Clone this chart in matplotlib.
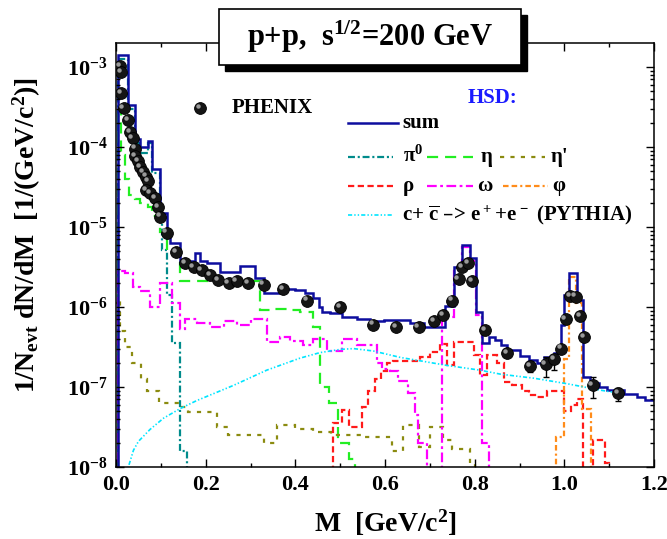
import numpy as np
import matplotlib
matplotlib.use("Agg")
import matplotlib.pyplot as plt
from matplotlib.patches import Rectangle
from matplotlib.transforms import ScaledTranslation
from matplotlib.ticker import LogLocator, MultipleLocator, NullFormatter

plt.rcParams['font.family'] = ['Liberation Serif', 'DejaVu Serif']
plt.rcParams['font.weight'] = 'bold'
plt.rcParams['axes.labelweight'] = 'bold'
plt.rcParams['mathtext.default'] = 'regular'
plt.rcParams['lines.scale_dashes'] = False

## Data: M in GeV/c^2, yields given as log10(1/N dN/dM)
# HSD sum (histogram)
sum_edges = [0, 0.005, 0.027, 0.042, 0.054, 0.072, 0.080, 0.098, 0.113, 0.12,
             0.143, 0.176, 0.1875, 0.202, 0.232, 0.277, 0.310, 0.329, 0.366, 0.400,
             0.422, 0.440, 0.452, 0.459, 0.478, 0.504, 0.537, 0.567, 0.597, 0.656,
             0.686, 0.734, 0.753, 0.772, 0.790, 0.802, 0.817, 0.832, 0.846, 0.858,
             0.873, 0.902, 0.921, 0.940, 0.955, 0.978, 0.992, 0.999, 1.010, 1.029,
             1.042, 1.057, 1.077, 1.096, 1.133, 1.163, 1.181, 1.2]
sum_log = [-9, -2.85, -3.475, -3.90, -4.0, -3.92, -4.27, -4.83, -5.12,
           -5.2, -5.43, -5.32, -5.43, -5.45, -5.56, -5.49, -5.64, -5.83, -5.77,
           -5.79, -5.83, -5.89, -6.0, -6.06, -6.08, -6.13, -6.15, -6.17, -6.16,
           -6.20, -6.25, -5.99, -5.50, -5.225, -5.39, -6.06, -6.45, -6.38, -6.41,
           -6.47, -6.54, -6.61, -6.66, -6.70, -6.62, -6.58, -6.23, -5.85, -5.58,
           -5.91, -6.87, -6.95, -7.0, -7.04, -7.09, -7.12, -7.16]

# pi0 Dalitz
pi0_edges = [0, 0.005, 0.027, 0.042, 0.054, 0.072, 0.080, 0.098, 0.102, 0.113,
             0.124, 0.143, 0.158, 0.17]
pi0_log = [-9, -2.9, -3.52, -3.95, -4.07, -3.95, -4.33, -4.9, -5.29, -5.85,
           -6.45, -7.8, -9]

# eta
eta_edges = [0, 0.004, 0.011, 0.02, 0.03, 0.042, 0.054, 0.072, 0.08, 0.098,
             0.113, 0.143, 0.321, 0.351, 0.381, 0.411, 0.44, 0.455, 0.474, 0.496,
             0.52, 0.533, 0.55]
eta_log = [-9, -3.5, -4.1, -4.4, -4.6, -4.65, -4.7, -4.75, -4.86, -5.06,
           -5.3, -5.68, -6.04, -6.02, -6.04, -6.06, -6.25, -7.0, -7.2, -7.7,
           -7.9, -9]

# eta'
etap_edges = [0, 0.004, 0.01, 0.02, 0.035, 0.055, 0.07, 0.095, 0.14, 0.16,
              0.225, 0.25, 0.33, 0.36, 0.40, 0.44, 0.48, 0.55, 0.615, 0.64,
              0.675, 0.70, 0.73, 0.75, 0.79, 0.80, 0.81]
etap_log = [-5.95, -5.9, -6.3, -6.5, -6.7, -6.9, -7.05, -7.2, -7.25, -7.31,
            -7.5, -7.6, -7.7, -7.47, -7.52, -7.56, -7.6, -7.63, -7.8, -7.48,
            -7.75, -7.5, -7.66, -7.78, -7.95, -9]

# rho
rho_edges = [0.47, 0.485, 0.504, 0.519, 0.548, 0.563, 0.578, 0.59, 0.604, 0.618,
             0.679, 0.70, 0.723, 0.738, 0.753, 0.798, 0.812, 0.828, 0.85, 0.866,
             0.884, 0.906, 0.921, 0.94, 0.962, 0.999, 1.014, 1.029, 1.042, 1.065,
             1.09, 1.1, 1.11]
rho_log = [-9, -7.45, -7.29, -7.5, -7.25, -7.05, -6.9, -6.8, -6.7, -6.68,
           -6.62, -6.56, -6.46, -6.72, -6.44, -6.6, -6.85, -6.6, -6.7, -6.94,
           -6.97, -7.05, -7.1, -7.12, -7.05, -7.3, -7.22, -7.15, -8.5, -7.66,
           -7.95, -9]

# omega
omega_edges = [0, 0.005, 0.02, 0.038, 0.054, 0.076, 0.098, 0.124, 0.143, 0.154,
               0.18, 0.21, 0.24, 0.27, 0.30, 0.337, 0.366, 0.388, 0.417, 0.44,
               0.471, 0.504, 0.537, 0.582, 0.593, 0.611, 0.63, 0.652, 0.667, 0.674,
               0.694, 0.727, 0.753, 0.772, 0.79, 0.802, 0.817, 0.832, 0.85]
omega_log = [-9, -5.55, -5.58, -5.75, -5.8, -6.0, -5.7, -5.95, -6.27, -6.15,
             -6.2, -6.25, -6.18, -6.22, -6.15, -6.44, -6.38, -6.42, -6.48, -6.4,
             -6.55, -6.4, -6.48, -6.7, -6.77, -6.8, -6.93, -7.08, -7.35, -7.7,
             -9, -6.12, -5.55, -5.25, -5.42, -6.1, -7.7, -9]

# phi
phi_edges = [0.97, 0.981, 0.999, 1.01, 1.025, 1.04, 1.059, 1.07]
phi_log = [-9, -7.62, -6.65, -5.62, -5.95, -7.27, -9]

# c cbar (PYTHIA), smooth curve
ccbar_m = [0.022, 0.0275, 0.039, 0.05, 0.076, 0.106, 0.143, 0.18, 0.262, 0.336,
           0.41, 0.455, 0.5, 0.53, 0.574, 0.634, 0.738, 0.8125, 0.858, 0.932,
           1.007, 1.081, 1.125]
ccbar_log = [-8.3, -8.0, -7.79, -7.68, -7.53, -7.39, -7.27, -7.17, -6.98, -6.79,
             -6.64, -6.57, -6.53, -6.52, -6.55, -6.63, -6.73, -6.79, -6.84, -6.89,
             -6.96, -7.04, -7.08]

# PHENIX data
phenix_m = [0.010, 0.012, 0.011, 0.017, 0.0275, 0.031, 0.037, 0.042, 0.042, 0.050,
            0.054, 0.061, 0.067, 0.072, 0.068, 0.076, 0.087, 0.094, 0.098, 0.113,
            0.134, 0.154, 0.173, 0.191, 0.21, 0.228, 0.251, 0.269, 0.295, 0.329,
            0.373, 0.426, 0.50, 0.574, 0.625, 0.675, 0.710, 0.729, 0.749, 0.764,
            0.772, 0.785, 0.794, 0.824, 0.873, 0.923, 0.958, 0.978, 0.993, 1.003,
            1.013, 1.025, 1.035, 1.044, 1.063, 1.12]
phenix_log = [-2.99, -3.06, -3.33, -3.51, -3.66, -3.81, -3.89, -4.02, -4.11, -4.18,
              -4.25, -4.31, -4.37, -4.43, -4.54, -4.58, -4.64, -4.75, -4.87, -5.07,
              -5.31, -5.45, -5.50, -5.54, -5.6, -5.66, -5.70, -5.68, -5.70, -5.72,
              -5.78, -5.92, -6.0, -6.22, -6.25, -6.25, -6.18, -6.1, -5.92, -5.65,
              -5.50, -5.45, -5.68, -6.29, -6.58, -6.74, -6.71, -6.65, -6.52, -6.15,
              -5.86, -5.87, -6.11, -6.38, -6.98, -7.08]
# error bars where visible (log10 of lower / upper ends)
err_m = [0.923, 0.958, 0.978, 1.063, 1.12]
err_lo = [-6.81, -6.87, -6.79, -7.14, -7.18]
err_hi = [-6.68, -6.62, -6.60, -6.87, -7.01]

## Styles
components = [
    (pi0_edges, pi0_log, '#008b8b', (0, (5, 2, 1.5, 2)), r'π$^0$'),
    (eta_edges, eta_log, '#22ee22', (0, (8, 5)), 'η'),
    (etap_edges, etap_log, '#8b8b10', (0, (3, 4.5)), "η'"),
    (rho_edges, rho_log, '#ff1a1a', (0, (4.5, 2.5)), 'ρ'),
    (omega_edges, omega_log, '#ff00ff', (0, (7, 2.5, 2, 2.5)), 'ω'),
    (phi_edges, phi_log, '#ff8c1a', (0, (4, 2.2, 4, 2.2, 1.5, 2.2)), 'φ'),
]
sum_color = '#0d0d9e'
cc_color = '#00e5ff'
cc_dash = (0, (3, 1.5, 1, 1.5, 1, 1.5))

fig = plt.figure(figsize=(6.67, 5.39), dpi=100)
ax = fig.add_axes([116/667, 72/539, 538/667, 424/539])

for edges, vals, col, ls, lab in components:
    ax.stairs(10.0**np.array(vals), edges, baseline=None, color=col,
              linewidth=1.6, linestyle=ls)

ax.plot(ccbar_m, 10.0**np.array(ccbar_log), color=cc_color, lw=1.2, linestyle=cc_dash)

ax.stairs(10.0**np.array(sum_log), sum_edges, baseline=None, color=sum_color, linewidth=1.8)

# data points: dark spheres with a little highlight
em = 10.0**np.array(phenix_log)
err_mid = 10.0**((np.array(err_lo) + np.array(err_hi)) / 2)
ax.errorbar(err_m, err_mid,
            yerr=[err_mid - 10.0**np.array(err_lo), 10.0**np.array(err_hi) - err_mid],
            fmt='none', ecolor='k', elinewidth=1.0, capsize=2, capthick=1.0, zorder=4)
ax.plot(phenix_m, em, 'o', ms=8.5, mfc='#151515', mec='black', mew=0.6, zorder=5)
hl = ax.transData + ScaledTranslation(-1.6/72, 1.6/72, fig.dpi_scale_trans)
ax.plot(phenix_m, em, 'o', ms=3.2, mfc='#9a9a9a', mec='none', transform=hl, zorder=6)

ax.set_yscale('log')
ax.set_xlim(0, 1.2)
ax.set_ylim(1e-8, 10**-2.7)

ax.set_xticks([0, 0.2, 0.4, 0.6, 0.8, 1.0, 1.2],
              labels=['0.0', '0.2', '0.4', '0.6', '0.8', '1.0', '1.2'])
ax.xaxis.set_minor_locator(MultipleLocator(0.1))
ax.set_yticks([1e-8, 1e-7, 1e-6, 1e-5, 1e-4, 1e-3],
              labels=[r'10$^{-8}$', r'10$^{-7}$', r'10$^{-6}$', r'10$^{-5}$', r'10$^{-4}$', r'10$^{-3}$'])
ax.yaxis.set_minor_locator(LogLocator(base=10, subs=np.arange(2, 10)))
ax.yaxis.set_minor_formatter(NullFormatter())
ax.tick_params(which='both', direction='in', top=True, right=True, width=1.0)
ax.tick_params(which='major', length=5.5, labelsize=16, pad=6)
ax.tick_params(which='minor', length=3)
for sp in ax.spines.values():
    sp.set_linewidth(1.1)

ax.set_xlabel(r'M  [GeV/c$^2$]', fontsize=20, fontweight='bold')
ax.xaxis.set_label_coords(0.5, -0.095)
ax.set_ylabel(r'1/N$_{evt}$ dN/dM  [1/(GeV/c$^2$)]', fontsize=20, fontweight='bold')
ax.yaxis.set_label_coords(-0.135, 0.547)

## Legend drawn by hand
tr = ax.transAxes
ax.plot([0.156], [0.847], 'o', ms=8.5, mfc='#151515', mec='black', mew=0.6, transform=tr, clip_on=False)
ax.plot([0.156], [0.847], 'o', ms=3.2, mfc='#9a9a9a', mec='none', clip_on=False,
        transform=tr + ScaledTranslation(-1.6/72, 1.6/72, fig.dpi_scale_trans))
ax.text(0.214, 0.847, 'PHENIX', transform=tr, fontsize=15, va='center')
ax.text(0.699, 0.870, 'HSD:', transform=tr, fontsize=15, va='center', ha='center', color='#1a1aff')

ax.plot([0.431, 0.524], [0.812, 0.812], color=sum_color, lw=1.8, transform=tr)
ax.text(0.532, 0.812, 'sum', transform=tr, fontsize=15, va='center')

legend_slots = [(0.431, 0.515, 0.533, 0.732), (0.578, 0.664, 0.677, 0.732), (0.714, 0.797, 0.807, 0.732),
                (0.431, 0.515, 0.533, 0.663), (0.578, 0.664, 0.671, 0.663), (0.719, 0.803, 0.810, 0.663)]
for (edges, vals, col, ls, lab), (x0, x1, xt, y) in zip(components, legend_slots):
    ax.plot([x0, x1], [y, y], color=col, lw=1.6, linestyle=ls, transform=tr)
    ax.text(xt, y, lab, transform=tr, fontsize=15, va='center')

ax.plot([0.431, 0.515], [0.594, 0.594], color=cc_color, lw=1.2, linestyle=cc_dash, transform=tr)
ax.text(0.532, 0.594, r'c+ $\overline{c}$ –> e$^+$+e$^-$ (PYTHIA)', transform=tr, fontsize=15, va='center')

## Title box with drop shadow
bx, by, bw, bh = 219/667, (539-65)/539, 302/667, 56/539
fig.add_artist(Rectangle((bx + 6/667, by - 6/539), bw, bh, transform=fig.transFigure,
                         facecolor='black', edgecolor='black', zorder=3))
fig.add_artist(Rectangle((bx, by), bw, bh, transform=fig.transFigure,
                         facecolor='white', edgecolor='black', lw=1.2, zorder=4))
fig.text(bx + bw/2, by + bh/2, r'p+p,  s$^{1/2}$=200 GeV', fontsize=22,
         ha='center', va='center', zorder=5)

fig.savefig('out.png', dpi=100)
